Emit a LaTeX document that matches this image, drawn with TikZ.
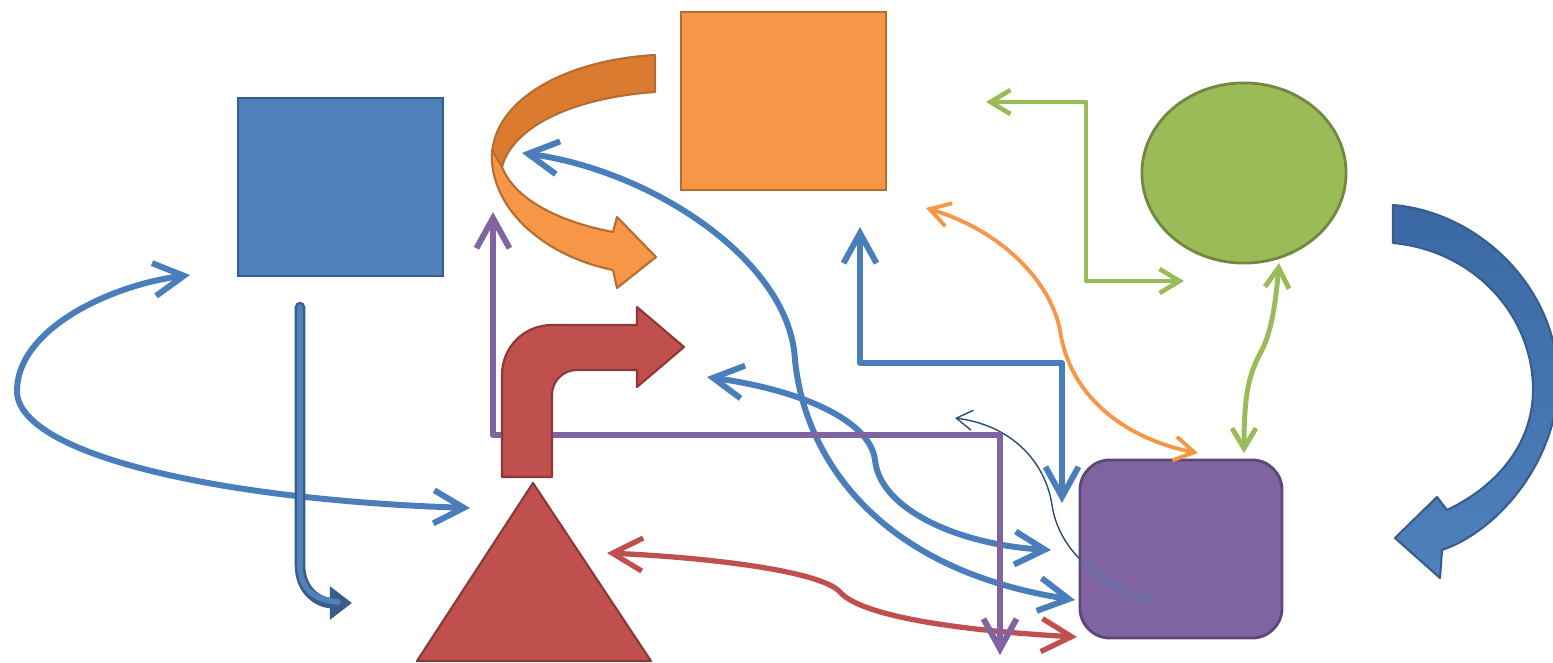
\documentclass[tikz,border=0pt]{standalone}
\usetikzlibrary{arrows.meta}
\usetikzlibrary{shapes.geometric}

\definecolor{bluefill}{HTML}{4F81BD}
\definecolor{blueedge}{HTML}{385D8A}
\definecolor{bluedark}{HTML}{3A68A3}
\definecolor{blueline}{HTML}{4A7EBB}
\definecolor{navyline}{HTML}{2C4D75}
\definecolor{orangefill}{HTML}{F79646}
\definecolor{orangeedge}{HTML}{B66D31}
\definecolor{orangedark}{HTML}{DB7B30}
\definecolor{greenfill}{HTML}{9BBB59}
\definecolor{greenedge}{HTML}{71893F}
\definecolor{purplefill}{HTML}{8064A2}
\definecolor{purpleedge}{HTML}{5C4776}
\definecolor{redfill}{HTML}{C0504D}
\definecolor{rededge}{HTML}{8C3836}

\begin{document}
\begin{tikzpicture}[x=0.01cm, y=-0.01cm,
    box/.style={draw, line width=0.8pt, inner sep=0pt, minimum width=2.05cm, minimum height=1.78cm},
    block/.style={line width=0.6pt, line join=round},
    link/.style={line width=1.7pt, line join=round},
    bigbarb/.style={{Straight Barb[length=3mm,width=3.3mm]}-{Straight Barb[length=3mm,width=3.3mm]}},
    smallbarb/.style={{Straight Barb[length=2mm,width=2.4mm]}-{Straight Barb[length=2mm,width=2.4mm]}}]

    \useasboundingbox (0,0) rectangle (1553,663);

    % shapes
    \node[box, draw=blueedge, fill=bluefill] (bluebox) at (340.5,187) {};
    \node[box, draw=orangeedge, fill=orangefill] (orangebox) at (783.5,101) {};
    \node[box, ellipse, draw=greenedge, fill=greenfill, minimum width=2.04cm, minimum height=1.8cm] (greenball) at (1244,173) {};

    % end points of the free arrows
    \coordinate (loopA) at (190,275);
    \coordinate (loopB) at (470,508);
    \coordinate (dropA) at (300,307);
    \coordinate (dropB) at (352,603);
    \coordinate (violA) at (493,212);
    \coordinate (violB) at (1000,655);
    \coordinate (longA) at (522,153);
    \coordinate (longB) at (1075,600);
    \coordinate (midA) at (707,377);
    \coordinate (midB) at (1051,550);
    \coordinate (stepA) at (860,227);
    \coordinate (stepB) at (1062,503);
    \coordinate (amberA) at (926,208);
    \coordinate (amberB) at (1198,453);
    \coordinate (leafA) at (986,102);
    \coordinate (leafB) at (1184,281);
    \coordinate (stemA) at (1279,263);
    \coordinate (stemB) at (1244,453);
    \coordinate (rubyA) at (607,553);
    \coordinate (rubyB) at (1077,637);
    \coordinate (hairA) at (955,418);
    \coordinate (hairB) at (1150,600);

    % orange u-turn arrow
    \filldraw[block, draw=orangeedge, fill=orangedark]
        (655,55) .. controls (565,60) and (494,100) .. (492,155) -- (502,167)
        .. controls (512,128) and (570,98) .. (655,92) -- cycle;
    \filldraw[block, draw=orangeedge, fill=orangefill]
        (492,150) .. controls (488,205) and (540,255) .. (613,270) -- (617,288) -- (656,257)
        -- (617,217) -- (613,232) .. controls (560,222) and (515,200) .. (502,167) -- cycle;

    % big blue arrow on the right
    \shade[top color=bluedark, bottom color=bluefill, draw=blueedge, block]
        (1393,205) .. controls (1480,212) and (1560,290) .. (1558,385)
        .. controls (1556,460) and (1500,530) .. (1442,550) -- (1440,578) -- (1395,538)
        -- (1437,497) -- (1447,510) .. controls (1500,485) and (1535,440) .. (1533,385)
        .. controls (1530,310) and (1470,250) .. (1393,243) -- cycle;

    \draw[line width=0.4pt, navyline, -{Straight Barb[length=1.6mm,width=2mm]}]
        (hairB) .. controls (1090,580) and (1058,545) .. (1052,505)
        .. controls (1045,460) and (1010,425) .. (hairA);

    \node[box, draw=purpleedge, fill=purplefill, rounded corners=0.3cm,
          minimum width=2.02cm] (purplebox) at (1181,549) {};
    \draw[bluefill, opacity=0.25, line width=2.5pt, line cap=round]
        (1084,562) .. controls (1105,580) and (1125,595) .. (hairB);

    % blue lines
    \draw[link, blueline, bigbarb] (loopA) .. controls (110,285) and (15,330) .. (17,393)
        .. controls (22,455) and (220,500) .. (loopB);
    \draw[line width=3pt, blueedge, line cap=round, -{Triangle[length=2.2mm,width=3.2mm]}]
        (dropA) -- (300,565) .. controls (300,592) and (320,603) .. (dropB);
    \draw[line width=1.6pt, bluefill, line cap=round] (dropA) -- (300,565) .. controls (300,590) and (315,600) .. (338,602);
    \draw[link, blueline, bigbarb] (longA) .. controls (650,170) and (790,260) .. (795,360)
        .. controls (805,460) and (880,570) .. (longB);
    \draw[link, blueline, bigbarb] (midA) .. controls (800,390) and (870,420) .. (875,460)
        .. controls (880,510) and (960,545) .. (midB);
    \draw[link, blueline, bigbarb] (stepA) -- (860,363) -- (1062,363) -- (stepB);

    % red, green and orange lines
    \draw[link, line width=1.5pt, redfill, bigbarb] (rubyA) .. controls (700,557) and (820,570) .. (840,592)
        .. controls (860,615) and (950,630) .. (rubyB);
    \draw[link, line width=1.3pt, greenfill, smallbarb] (leafA) -- (1086,102) -- (1086,281) -- (leafB);
    \draw[link, line width=1.4pt, greenfill, smallbarb] (stemA) .. controls (1276,300) and (1272,330) .. (1262,350)
        .. controls (1250,372) and (1244,390) .. (stemB);
    \draw[link, line width=1.1pt, orangefill, smallbarb] (amberA) .. controls (1000,230) and (1050,280) .. (1060,330)
        .. controls (1070,400) and (1130,440) .. (amberB);

    % purple line
    \draw[link, purplefill, bigbarb] (violA) -- (493,435) -- (1000,435) -- (violB);

    % red bent arrow and triangle
    \filldraw[block, draw=rededge, fill=redfill]
        (502,477) -- (502,375) .. controls (502,347) and (524,325) .. (552,325) -- (637,325)
        -- (637,307) -- (684,347) -- (637,387) -- (637,370) -- (577,370)
        .. controls (563,370) and (552,381) .. (552,395) -- (552,477) -- cycle;
    \filldraw[block, draw=rededge, fill=redfill] (533,483) -- (651,661) -- (417,661) -- cycle;

\end{tikzpicture}
\end{document}
